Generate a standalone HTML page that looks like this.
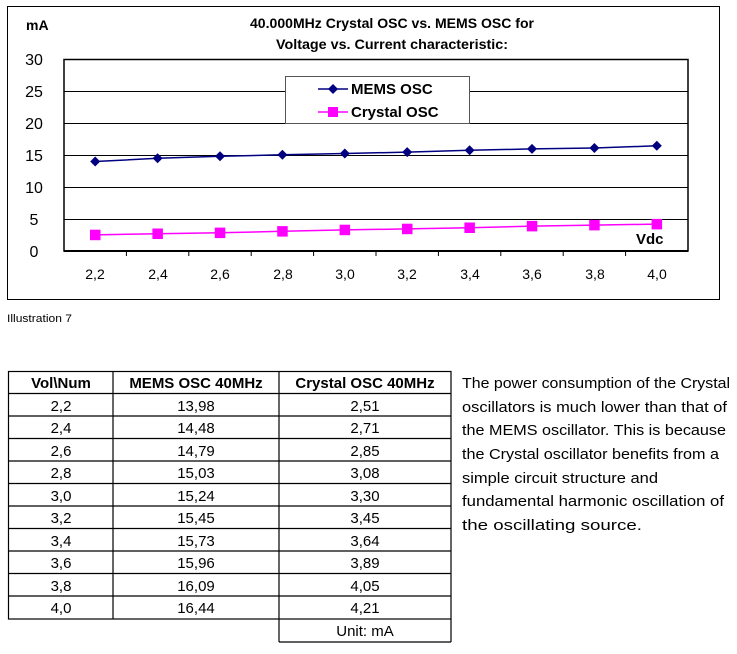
<!DOCTYPE html>
<html><head><meta charset="utf-8"><style>
html,body{margin:0;padding:0;background:#fff;}
svg{display:block;font-family:"Liberation Sans",sans-serif;}
</style></head><body>
<svg width="737" height="654" viewBox="0 0 737 654" xmlns="http://www.w3.org/2000/svg">
<rect x="7.5" y="6.5" width="712" height="293" fill="#fff" stroke="#000" stroke-width="1"/>
<text x="392" y="28" font-size="14" font-weight="bold" text-anchor="middle" textLength="284" lengthAdjust="spacingAndGlyphs">40.000MHz Crystal OSC vs. MEMS OSC for</text>
<text x="392" y="49" font-size="14" font-weight="bold" text-anchor="middle" textLength="232" lengthAdjust="spacingAndGlyphs">Voltage vs. Current characteristic:</text>
<text x="26" y="30" font-size="14" font-weight="bold">mA</text>
<g stroke="#000" stroke-width="1">
<line x1="64" y1="91.5" x2="688" y2="91.5"/>
<line x1="64" y1="123.5" x2="688" y2="123.5"/>
<line x1="64" y1="155.5" x2="688" y2="155.5"/>
<line x1="64" y1="187.5" x2="688" y2="187.5"/>
<line x1="64" y1="219.5" x2="688" y2="219.5"/>
</g>
<rect x="64" y="59.5" width="624" height="191.5" fill="none" stroke="#000" stroke-width="1.5"/>
<line x1="64" y1="251" x2="688" y2="251" stroke="#000" stroke-width="2"/>
<g stroke="#000" stroke-width="1">
<line x1="126.4" y1="251" x2="126.4" y2="256"/><line x1="188.8" y1="251" x2="188.8" y2="256"/>
<line x1="251.2" y1="251" x2="251.2" y2="256"/><line x1="313.6" y1="251" x2="313.6" y2="256"/>
<line x1="376" y1="251" x2="376" y2="256"/><line x1="438.4" y1="251" x2="438.4" y2="256"/>
<line x1="500.8" y1="251" x2="500.8" y2="256"/><line x1="563.2" y1="251" x2="563.2" y2="256"/>
<line x1="625.6" y1="251" x2="625.6" y2="256"/>
</g>
<g font-size="16" text-anchor="middle">
<text x="34" y="65">30</text><text x="34" y="97">25</text><text x="34" y="129">20</text>
<text x="34" y="161">15</text><text x="34" y="193">10</text><text x="34" y="225">5</text><text x="34" y="257">0</text>
</g>
<g font-size="14" text-anchor="middle">
<text x="95" y="279">2,2</text><text x="158" y="279">2,4</text><text x="220" y="279">2,6</text>
<text x="283" y="279">2,8</text><text x="345" y="279">3,0</text><text x="407" y="279">3,2</text>
<text x="470" y="279">3,4</text><text x="532" y="279">3,6</text><text x="595" y="279">3,8</text><text x="657" y="279">4,0</text>
</g>
<text x="636" y="244" font-size="15" font-weight="bold">Vdc</text>
<rect x="285.5" y="76.5" width="184" height="47" fill="#fff" stroke="#555" stroke-width="1"/>
<line x1="318" y1="89" x2="348" y2="89" stroke="#000080" stroke-width="1.5"/>
<polygon points="333,84 338,89 333,94 328,89" fill="#000080"/>
<text x="351" y="94" font-size="15" font-weight="bold">MEMS OSC</text>
<line x1="318" y1="112" x2="348" y2="112" stroke="#ff00ff" stroke-width="1.5"/>
<rect x="328" y="107" width="10" height="10" fill="#ff00ff"/>
<text x="351" y="117" font-size="15" font-weight="bold">Crystal OSC</text>
<polyline fill="none" stroke="#000080" stroke-width="1.5" points="95.2,161.5 157.6,158.3 220,156.3 282.4,154.8 344.8,153.5 407.2,152.1 469.6,150.3 532,148.9 594.4,148.0 656.8,145.8"/>
<g fill="#000080">
<polygon points="95.2,156.5 100.2,161.5 95.2,166.5 90.2,161.5"/>
<polygon points="157.6,153.3 162.6,158.3 157.6,163.3 152.6,158.3"/>
<polygon points="220,151.3 225,156.3 220,161.3 215,156.3"/>
<polygon points="282.4,149.8 287.4,154.8 282.4,159.8 277.4,154.8"/>
<polygon points="344.8,148.5 349.8,153.5 344.8,158.5 339.8,153.5"/>
<polygon points="407.2,147.1 412.2,152.1 407.2,157.1 402.2,152.1"/>
<polygon points="469.6,145.3 474.6,150.3 469.6,155.3 464.6,150.3"/>
<polygon points="532,143.9 537,148.9 532,153.9 527,148.9"/>
<polygon points="594.4,143 599.4,148 594.4,153 589.4,148"/>
<polygon points="656.8,140.8 661.8,145.8 656.8,150.8 651.8,145.8"/>
</g>
<polyline fill="none" stroke="#ff00ff" stroke-width="1.5" points="95.2,234.9 157.6,233.7 220,232.8 282.4,231.3 344.8,229.9 407.2,228.9 469.6,227.7 532,226.1 594.4,225.1 656.8,224.1"/>
<g fill="#ff00ff">
<rect x="90" y="229.7" width="10.5" height="10.5"/><rect x="152.4" y="228.5" width="10.5" height="10.5"/>
<rect x="214.8" y="227.6" width="10.5" height="10.5"/><rect x="277.2" y="226.1" width="10.5" height="10.5"/>
<rect x="339.6" y="224.7" width="10.5" height="10.5"/><rect x="402" y="223.7" width="10.5" height="10.5"/>
<rect x="464.4" y="222.5" width="10.5" height="10.5"/><rect x="526.8" y="220.9" width="10.5" height="10.5"/>
<rect x="589.2" y="219.9" width="10.5" height="10.5"/><rect x="651.6" y="218.9" width="10.5" height="10.5"/>
</g>
<text x="7" y="322" font-size="11" textLength="65" lengthAdjust="spacingAndGlyphs">Illustration 7</text>

<g stroke="#000" stroke-width="1.2" fill="none">
<rect x="8.5" y="371.5" width="442.5" height="247.5"/>
<line x1="113" y1="371" x2="113" y2="619"/>
<line x1="279" y1="371" x2="279" y2="642"/>
<line x1="451" y1="619" x2="451" y2="642"/>
<line x1="279" y1="642" x2="451" y2="642"/>
<line x1="8" y1="393.5" x2="451" y2="393.5"/>
<line x1="8" y1="416" x2="451" y2="416"/>
<line x1="8" y1="438.5" x2="451" y2="438.5"/>
<line x1="8" y1="461" x2="451" y2="461"/>
<line x1="8" y1="483.5" x2="451" y2="483.5"/>
<line x1="8" y1="506" x2="451" y2="506"/>
<line x1="8" y1="528.5" x2="451" y2="528.5"/>
<line x1="8" y1="551" x2="451" y2="551"/>
<line x1="8" y1="573.5" x2="451" y2="573.5"/>
<line x1="8" y1="596" x2="451" y2="596"/>
</g>
<g font-size="15" font-weight="bold" text-anchor="middle">
<text x="61" y="388">Vol\Num</text><text x="196" y="388">MEMS OSC 40MHz</text><text x="365" y="388">Crystal OSC 40MHz</text>
</g>
<g font-size="15" text-anchor="middle">
<text x="61" y="411">2,2</text><text x="196" y="411">13,98</text><text x="365" y="411">2,51</text>
<text x="61" y="433">2,4</text><text x="196" y="433">14,48</text><text x="365" y="433">2,71</text>
<text x="61" y="456">2,6</text><text x="196" y="456">14,79</text><text x="365" y="456">2,85</text>
<text x="61" y="478">2,8</text><text x="196" y="478">15,03</text><text x="365" y="478">3,08</text>
<text x="61" y="501">3,0</text><text x="196" y="501">15,24</text><text x="365" y="501">3,30</text>
<text x="61" y="523">3,2</text><text x="196" y="523">15,45</text><text x="365" y="523">3,45</text>
<text x="61" y="546">3,4</text><text x="196" y="546">15,73</text><text x="365" y="546">3,64</text>
<text x="61" y="568">3,6</text><text x="196" y="568">15,96</text><text x="365" y="568">3,89</text>
<text x="61" y="591">3,8</text><text x="196" y="591">16,09</text><text x="365" y="591">4,05</text>
<text x="61" y="613">4,0</text><text x="196" y="613">16,44</text><text x="365" y="613">4,21</text>
<text x="365" y="636">Unit: mA</text>
</g>
<g font-size="14.5">
<text x="462" y="388" textLength="268" lengthAdjust="spacingAndGlyphs">The power consumption of the Crystal</text>
<text x="462" y="412" textLength="265" lengthAdjust="spacingAndGlyphs">oscillators is much lower than that of</text>
<text x="462" y="435" textLength="264" lengthAdjust="spacingAndGlyphs">the MEMS oscillator. This is because</text>
<text x="462" y="459" textLength="257" lengthAdjust="spacingAndGlyphs">the Crystal oscillator benefits from a</text>
<text x="462" y="483" textLength="196" lengthAdjust="spacingAndGlyphs">simple circuit structure and</text>
<text x="462" y="506" textLength="262" lengthAdjust="spacingAndGlyphs">fundamental harmonic oscillation of</text>
<text x="462" y="530" textLength="180" lengthAdjust="spacingAndGlyphs">the oscillating source.</text>
</g>
</svg>
</body></html>
